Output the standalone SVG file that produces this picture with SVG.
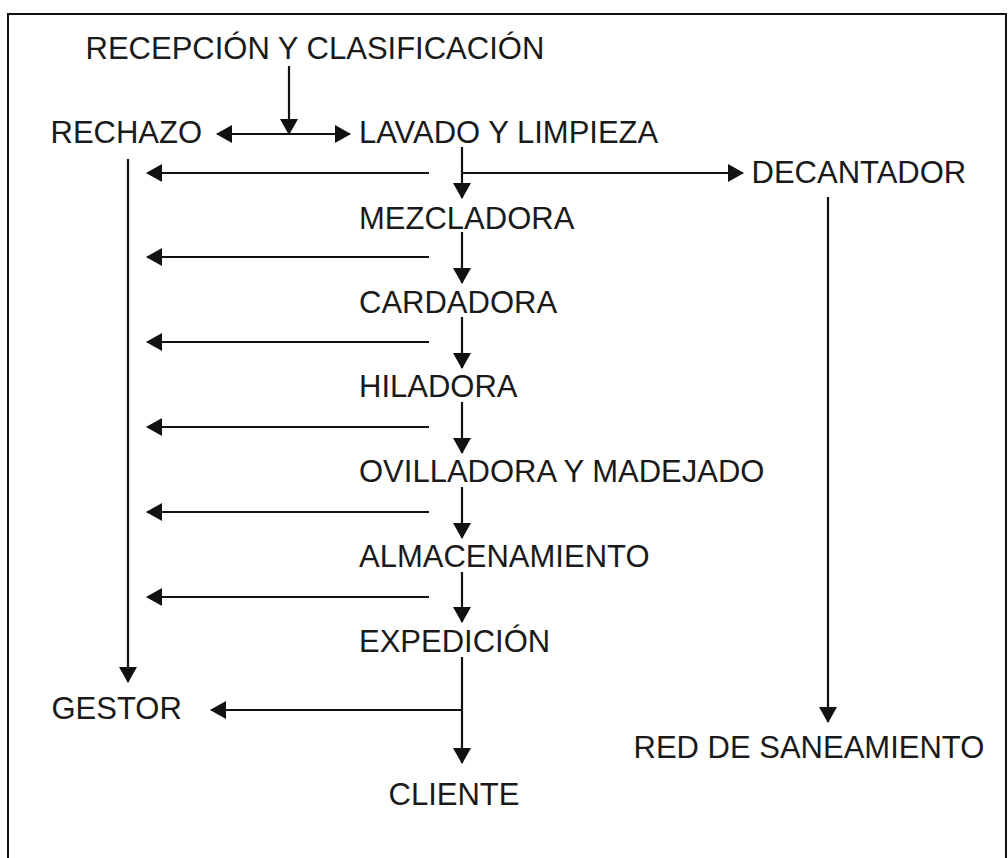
<svg xmlns="http://www.w3.org/2000/svg" width="1008" height="858" viewBox="0 0 1008 858">
<style>
  .t { font-family: "Liberation Sans", Arial, sans-serif; font-size: 31px; fill: #1a1a1a; }
  .c { stroke: #111; stroke-width: 2.2; fill: none; }
  .a { marker-end: url(#ah); }
</style>
<defs>
  <marker id="ah" markerUnits="userSpaceOnUse" markerWidth="16" markerHeight="18" refX="15" refY="9" orient="auto-start-reverse" viewBox="0 0 16 18">
    <path d="M0,0 L16,9 L0,18 Z" fill="#111"/>
  </marker>
</defs>
<rect x="8" y="14" width="998" height="900" fill="#fff" stroke="#111" stroke-width="2"/>
<g id="connectors">
  <line class="c a" x1="289" y1="66" x2="289" y2="134"/>
  <line class="c a" x1="217" y1="134" x2="350" y2="134" marker-start="url(#ah)"/>
  <line class="c a" x1="462" y1="147" x2="462" y2="198"/>
  <line class="c a" x1="462" y1="173" x2="743" y2="173"/>
  <line class="c a" x1="429" y1="173" x2="147" y2="173"/>
  <line class="c a" x1="462" y1="232" x2="462" y2="283"/>
  <line class="c a" x1="429" y1="257" x2="147" y2="257"/>
  <line class="c a" x1="462" y1="317" x2="462" y2="368"/>
  <line class="c a" x1="429" y1="342" x2="147" y2="342"/>
  <line class="c a" x1="462" y1="402" x2="462" y2="453"/>
  <line class="c a" x1="429" y1="427" x2="147" y2="427"/>
  <line class="c a" x1="462" y1="487" x2="462" y2="538"/>
  <line class="c a" x1="429" y1="512" x2="147" y2="512"/>
  <line class="c a" x1="462" y1="572" x2="462" y2="622"/>
  <line class="c a" x1="429" y1="597" x2="147" y2="597"/>
  <line class="c a" x1="462" y1="657" x2="462" y2="763"/>
  <line class="c a" x1="462" y1="710" x2="211" y2="710"/>
  <line class="c a" x1="128" y1="159" x2="128" y2="682"/>
  <line class="c a" x1="828" y1="197" x2="828" y2="722"/>
</g>
<g id="recepcion"><text class="t" x="85.5" y="59">RECEPCIÓN Y CLASIFICACIÓN</text></g>
<g id="rechazo"><text class="t" x="50.5" y="143">RECHAZO</text></g>
<g id="lavado"><text class="t" x="359" y="143">LAVADO Y LIMPIEZA</text></g>
<g id="decantador"><text class="t" x="751.5" y="183">DECANTADOR</text></g>
<g id="mezcladora"><text class="t" x="359" y="228.5">MEZCLADORA</text></g>
<g id="cardadora"><text class="t" x="359" y="313">CARDADORA</text></g>
<g id="hiladora"><text class="t" x="359" y="397">HILADORA</text></g>
<g id="ovilladora"><text class="t" x="359" y="482">OVILLADORA Y MADEJADO</text></g>
<g id="almacenamiento"><text class="t" x="359" y="567">ALMACENAMIENTO</text></g>
<g id="expedicion"><text class="t" x="359" y="652">EXPEDICIÓN</text></g>
<g id="gestor"><text class="t" x="51.5" y="719">GESTOR</text></g>
<g id="cliente"><text class="t" x="388.5" y="805">CLIENTE</text></g>
<g id="red"><text class="t" x="633.5" y="758">RED DE SANEAMIENTO</text></g>
</svg>
